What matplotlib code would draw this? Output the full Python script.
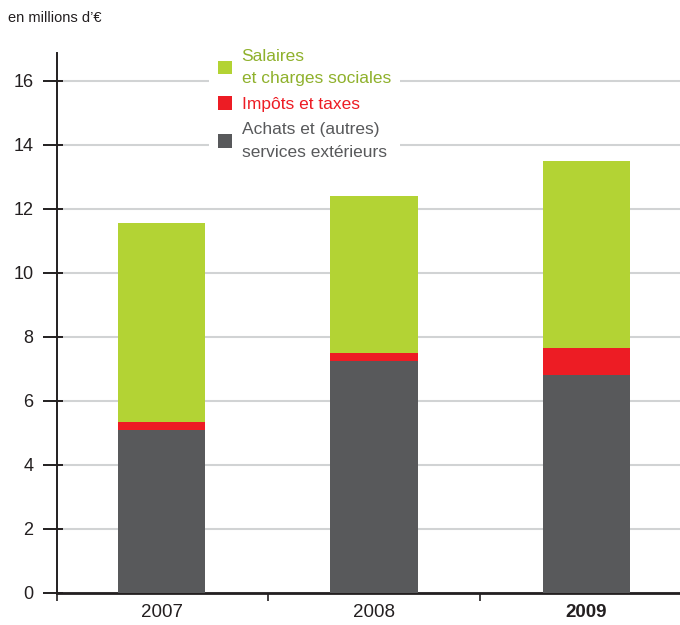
import matplotlib
matplotlib.use('Agg')
import matplotlib.pyplot as plt
import numpy as np

# values (millions of euros)
years = ['2007', '2008', '2009']
achats = [5.09, 7.24, 6.80]
impots = [0.24, 0.25, 0.86]
salaires = [6.22, 4.91, 5.83]

lab_salaires = 'Salaires\net charges sociales'
lab_impots = 'Impôts et taxes'
lab_achats = 'Achats et (autres)\nservices extérieurs'

green = '#B3D334'
red = '#ED1C24'
grey = '#58595B'
ink = '#231F20'

plt.rcParams['font.family'] = ['Liberation Sans', 'DejaVu Sans']

fig = plt.figure(figsize=(6.8, 6.25), dpi=100)
ax = fig.add_axes([57/680, 32.3/625, 623/680, 539.7/625])

pos = np.arange(len(years))
w = 0.41
b1 = ax.bar(pos, achats, w, color=grey, label=lab_achats, zorder=3)
bottom2 = np.array(achats)
b2 = ax.bar(pos, impots, w, bottom=bottom2, color=red, label=lab_impots, zorder=3)
bottom3 = bottom2 + np.array(impots)
b3 = ax.bar(pos, salaires, w, bottom=bottom3, color=green, label=lab_salaires, zorder=3)

ax.set_xlim(-0.492, 2.44)
ax.set_ylim(0, 16.87)

# y ticks: long part outside, short part inside the spine
yt = np.arange(0, 17, 2)
ax.set_yticks(yt)
ax.set_yticks(yt, minor=True)
ax.yaxis.remove_overlapping_locs = False
ax.yaxis.grid(True, which='major', color='#D1D3D4', linewidth=1.5, zorder=0)
ax.set_axisbelow(True)
ax.tick_params(axis='y', which='major', direction='out', length=10, width=1.4, color=ink,
               labelsize=13, labelcolor=ink, pad=7)
ax.tick_params(axis='y', which='minor', direction='in', length=4.5, width=1.4, color=ink,
               labelleft=False)

ax.set_xticks(pos)
ax.set_xticklabels(years)
ax.tick_params(axis='x', which='major', length=0, labelsize=13.5, labelcolor=ink, pad=8)
ax.set_xticks([-0.492, 0.5, 1.5], minor=True)
ax.tick_params(axis='x', which='minor', direction='out', length=6, width=1.2, color=ink)
ax.get_xticklabels()[2].set_fontweight('bold')

for s in ['top', 'right']:
    ax.spines[s].set_visible(False)
ax.spines['left'].set_linewidth(1.4)
ax.spines['left'].set_color(ink)
ax.spines['bottom'].set_linewidth(2)
ax.spines['bottom'].set_color(ink)

leg = ax.legend(handles=[b3, b2, b1], loc='upper left',
                bbox_to_anchor=(209/680, 1 - 40/625), bbox_transform=fig.transFigure,
                frameon=True, facecolor='white', edgecolor='none', framealpha=1,
                fontsize=12.5, handlelength=0.8, handleheight=0.8, handletextpad=0.58,
                labelspacing=0.6, borderpad=0.5, borderaxespad=0,
                labelcolor=['#8FB12C', red, grey])
leg.set_zorder(4)
for t in leg.get_texts():
    t.set_linespacing(1.6)

fig.text(8/680, 1 - 18/625, 'en millions d\u2019€', fontsize=10.5, color=ink, va='center', ha='left')

fig.savefig('out.png', dpi=100)
